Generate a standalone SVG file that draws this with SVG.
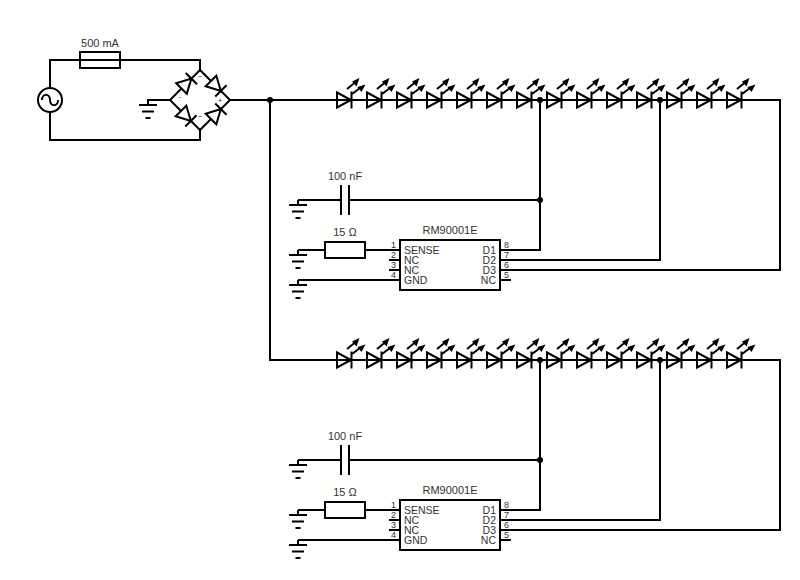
<svg xmlns="http://www.w3.org/2000/svg" width="800" height="580" viewBox="0 0 800 580">
<style>
.w{fill:none;stroke:#000;stroke-width:2}
.b{fill:#fff;stroke:#000;stroke-width:2}
.tf{fill:#000;stroke:none}
text{font-family:"Liberation Sans",Arial,sans-serif;fill:#333;font-size:11px}
.m{text-anchor:middle}
.e{text-anchor:end}
.n{font-size:10.500px}
.p{font-size:9px}
.s{font-size:8px;text-anchor:middle}
</style>
<defs>
<g id="gnd"><path class="w" d="M0 0V5M-9 5H9M-6 11.500H6M-2.500 18H2.500"/></g>
<g id="diode"><path class="b" d="M0 -7.500L14 0L0 7.500Z"/><path class="w" d="M14 -8V8"/></g>
<g id="led">
<path class="w" d="M0 -7.500L14 0L0 7.500ZM14.500 -8.500V8.500"/>
<path class="w" d="M10 -11L18 -17.500M15 -6L23 -12"/>
<path class="tf" d="M22.500 -22L19.500 -13.500L15 -18.500ZM28.500 -15.500L24.500 -8L20.500 -13Z"/>
</g>
<g id="leds">
<use href="#led" x="337"/><use href="#led" x="367"/><use href="#led" x="397"/><use href="#led" x="427"/><use href="#led" x="457"/><use href="#led" x="487"/><use href="#led" x="517"/><use href="#led" x="547"/><use href="#led" x="577"/><use href="#led" x="607"/><use href="#led" x="637"/><use href="#led" x="667"/><use href="#led" x="697"/><use href="#led" x="727"/>
</g>
<circle id="dot" r="3" fill="#000"/>
<g id="driver">
<path class="w" d="M298 200H341M349 200H540M341 185V215M349 185V215"/>
<path class="w" d="M298 250H325M365 250H400M298 280H400M389 260H400M389 270H400"/>
<path class="w" d="M500 250H540V100M500 260H660V100M500 270H780V100H337M500 280H511"/>
<rect x="325" y="242" width="40" height="16" class="w"/>
<rect x="400" y="240" width="100" height="50" class="w"/>
<use href="#gnd" x="298" y="200"/><use href="#gnd" x="298" y="250"/><use href="#gnd" x="298" y="280"/>
<use href="#dot" x="540" y="100"/><use href="#dot" x="660" y="100"/><use href="#dot" x="540" y="200"/>
<text x="345" y="180" class="m">100 nF</text>
<text x="345" y="236" class="m">15 Ω</text>
<text x="450" y="234" class="m">RM90001E</text>
<text x="404" y="254" class="n">SENSE</text><text x="404" y="264" class="n">NC</text><text x="404" y="274" class="n">NC</text><text x="404" y="284" class="n">GND</text>
<text x="496" y="254" class="e n">D1</text><text x="496" y="264" class="e n">D2</text><text x="496" y="274" class="e n">D3</text><text x="496" y="284" class="e n">NC</text>
<text x="396" y="248" class="p e">1</text><text x="396" y="258" class="p e">2</text><text x="396" y="268" class="p e">3</text><text x="396" y="278" class="p e">4</text>
<text x="504" y="248" class="p">8</text><text x="504" y="258" class="p">7</text><text x="504" y="268" class="p">6</text><text x="504" y="278" class="p">5</text>
</g>
</defs>
<g id="connectors">
<path class="w" d="M50 88V60H200V70L230 100L200 130V140H50V112"/>
<path class="w" d="M200 70L170 100L200 130M148 105V100H170M230 100H337M270 100V360H337"/>
<path class="w" d="M337 100H780"/>
<path class="w" d="M337 360H780"/>
</g>
<g id="fuse"><rect x="80" y="52" width="40" height="16" class="w"/><text x="100" y="47" class="m">500 mA</text></g>
<g id="source"><circle cx="50" cy="100" r="12" class="w"/><path class="w" d="M42 100C42 93 50 93 50 100S58 107 58 100"/></g>
<g id="ground-bridge"><use href="#gnd" x="148" y="100"/></g>
<g id="bridge">
<use href="#diode" transform="translate(181.500 88.500) rotate(-45)"/>
<use href="#diode" transform="translate(211 81) rotate(45)"/>
<use href="#diode" transform="translate(181 111) rotate(45)"/>
<use href="#diode" transform="translate(211 119) rotate(-45)"/>
<text x="200" y="79" class="s">~</text><text x="180" y="99" class="s">-</text><text x="220" y="103" class="s">+</text><text x="200" y="119" class="s">~</text>
</g>
<g id="junction"><use href="#dot" x="270" y="100"/></g>
<g id="leds-1"><use href="#leds" y="100"/></g>
<g id="leds-2"><use href="#leds" y="360"/></g>
<g id="driver-1"><use href="#driver"/></g>
<g id="driver-2"><use href="#driver" y="260"/></g>
</svg>
